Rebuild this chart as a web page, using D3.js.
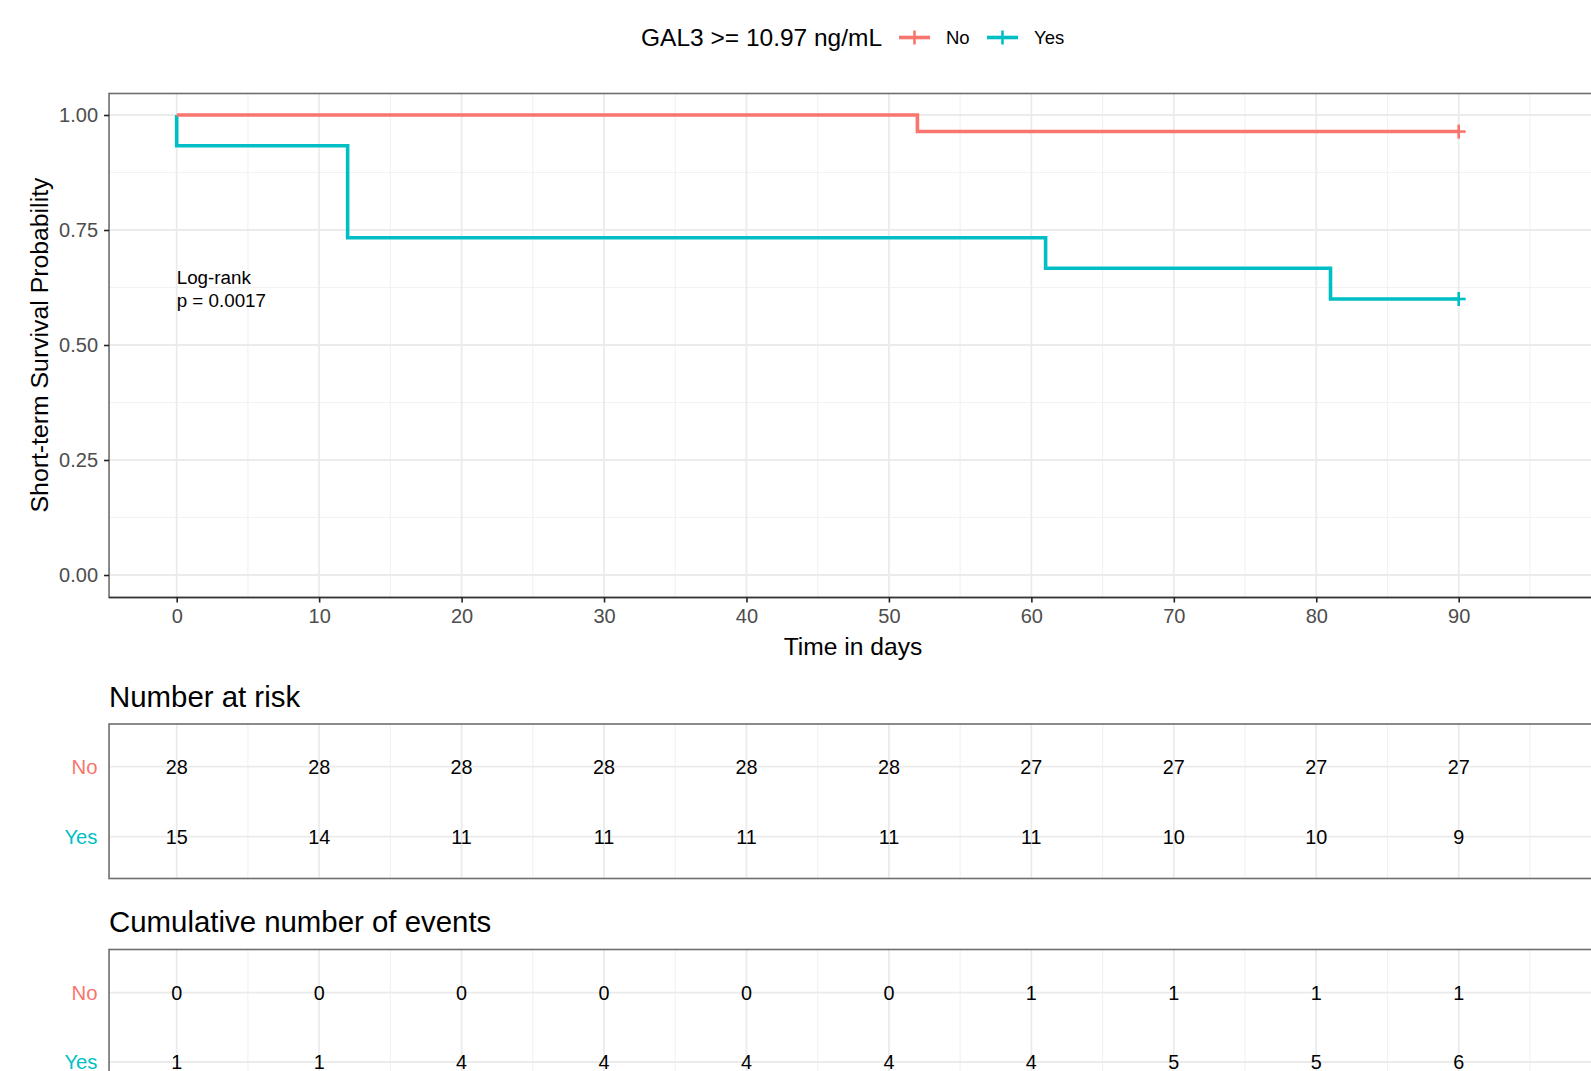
<!DOCTYPE html>
<html>
<head>
<meta charset="utf-8">
<script src="https://cdn.jsdelivr.net/npm/d3@7"></script>
<style>
  html, body { margin: 0; padding: 0; background: #fff; overflow: hidden; }
  svg { display: block; font-family: "Liberation Sans", Arial, sans-serif; }
</style>
</head>
<body>
<svg id="chart" width="1591" height="1071"></svg>
<script>
// Groups and colours
const groups = ["No", "Yes"];
const groupColors = ["#F8766D", "#00BFC4"];

// Kaplan-Meier step points (time in days, survival probability)
const stepTimesNo = [0, 52, 90];
const survNo      = [1.000, 0.964, 0.964];
const stepTimesYes = [0, 0, 12, 61, 81, 90];
const survYes      = [1.000, 0.933, 0.733, 0.667, 0.600, 0.600];

// Censoring marks
const censorTimes = [90, 90];
const censorSurv  = [0.964, 0.600];

// Axis ticks
const xTicks = [0, 10, 20, 30, 40, 50, 60, 70, 80, 90];
const yTicks = [0, 0.25, 0.5, 0.75, 1.0];
const yTickLabels = ["0.00", "0.25", "0.50", "0.75", "1.00"];

// Risk table time points and values
const tableTimes = [0, 10, 20, 30, 40, 50, 60, 70, 80, 90];
const atRiskNo  = [28, 28, 28, 28, 28, 28, 27, 27, 27, 27];
const atRiskYes = [15, 14, 11, 11, 11, 11, 11, 10, 10, 9];
const eventsNo  = [0, 0, 0, 0, 0, 0, 1, 1, 1, 1];
const eventsYes = [1, 1, 4, 4, 4, 4, 4, 5, 5, 6];

const legendTitle = "GAL3 >= 10.97 ng/mL";
const pText = ["Log-rank", "p = 0.0017"];

const svg = d3.select("#chart");
const gridMajor = "#EBEBEB", gridMinor = "#F2F2F2", borderCol = "#6E6E6E";
const FONT = "Liberation Sans, Arial, sans-serif";

// Shared x scale
const x = d3.scaleLinear().domain([0, 90]).range([176.7, 1458.7]);
const xMin = -4.75, xMax = 99.5;
const gridX = d3.range(0, 100, 5);

// ---------- Main survival panel ----------
const y = d3.scaleLinear().domain([0, 1]).range([575, 115]);
const pTop = 93.5, pBot = 597.5, pLeft = x(xMin), pRight = x(xMax);

const main = svg.append("g");
// minor y grid
main.selectAll("line.ymin").data([0.125, 0.375, 0.625, 0.875]).join("line")
  .attr("x1", pLeft).attr("x2", pRight).attr("y1", d => y(d)).attr("y2", d => y(d))
  .attr("stroke", gridMinor).attr("stroke-width", 1.2);
// x grid (major every 10, minor at 5s)
main.selectAll("line.xg").data(gridX).join("line")
  .attr("x1", d => x(d)).attr("x2", d => x(d)).attr("y1", pTop).attr("y2", pBot)
  .attr("stroke", d => d % 10 === 0 ? gridMajor : gridMinor)
  .attr("stroke-width", d => d % 10 === 0 ? 1.8 : 1.2);
// major y grid
main.selectAll("line.ymaj").data(yTicks).join("line")
  .attr("x1", pLeft).attr("x2", pRight).attr("y1", d => y(d)).attr("y2", d => y(d))
  .attr("stroke", gridMajor).attr("stroke-width", 1.8);

// curves
const line = d3.line().x(d => x(d[0])).y(d => y(d[1])).curve(d3.curveStepAfter);
const curveYes = stepTimesYes.map((t, i) => [t, survYes[i]]);
const curveNo = stepTimesNo.map((t, i) => [t, survNo[i]]);
main.append("path").datum(curveYes).attr("d", line)
  .attr("fill", "none").attr("stroke", groupColors[1]).attr("stroke-width", 3.6);
main.append("path").datum(curveNo).attr("d", line)
  .attr("fill", "none").attr("stroke", groupColors[0]).attr("stroke-width", 3.6);

// censor marks
censorTimes.forEach((t, i) => {
  const cx = x(t), cy = y(censorSurv[i]);
  const c = groupColors[i];
  main.append("line").attr("x1", cx - 7).attr("x2", cx + 7).attr("y1", cy).attr("y2", cy)
    .attr("stroke", c).attr("stroke-width", 2.6);
  main.append("line").attr("x1", cx).attr("x2", cx).attr("y1", cy - 7).attr("y2", cy + 7)
    .attr("stroke", c).attr("stroke-width", 2.6);
});

// p-value text
main.append("text").attr("x", x(0)).attr("y", 284).attr("font-size", 18.8)
  .attr("fill", "#000").text(pText[0]);
main.append("text").attr("x", x(0)).attr("y", 307).attr("font-size", 18.8)
  .attr("fill", "#000").text(pText[1]);

// panel border
main.append("rect").attr("x", pLeft).attr("y", pTop)
  .attr("width", pRight - pLeft).attr("height", pBot - pTop)
  .attr("fill", "none").attr("stroke", borderCol).attr("stroke-width", 1.6);
main.append("line").attr("x1", pLeft).attr("x2", pRight).attr("y1", pBot).attr("y2", pBot)
  .attr("stroke", "#333").attr("stroke-width", 1.6);

// y axis
const yAxis = main.append("g").attr("transform", `translate(${pLeft},0)`)
  .call(d3.axisLeft(y).tickValues(yTicks).tickSize(5).tickPadding(6)
    .tickFormat((d, i) => yTickLabels[i]));
yAxis.select(".domain").remove();
yAxis.selectAll(".tick line").attr("stroke", "#222").attr("stroke-width", 1.6);
yAxis.selectAll(".tick text").attr("font-size", 20).attr("fill", "#4D4D4D")
  .attr("font-family", FONT);

// x axis
const xAxis = main.append("g").attr("transform", `translate(0,${pBot})`)
  .call(d3.axisBottom(x).tickValues(xTicks).tickSize(5).tickPadding(6)
    .tickFormat(d3.format("d")));
xAxis.select(".domain").remove();
xAxis.selectAll(".tick line").attr("stroke", "#222").attr("stroke-width", 1.6);
xAxis.selectAll(".tick text").attr("font-size", 20).attr("fill", "#4D4D4D")
  .attr("font-family", FONT);

// axis titles
svg.append("text").attr("x", 853).attr("y", 655).attr("text-anchor", "middle")
  .attr("font-size", 24.6).attr("fill", "#000").text("Time in days");
svg.append("text").attr("transform", "translate(48,345) rotate(-90)")
  .attr("text-anchor", "middle").attr("font-size", 24.8).attr("fill", "#000")
  .text("Short-term Survival Probability");

// ---------- Legend ----------
const lg = svg.append("g");
lg.append("text").attr("x", 641).attr("y", 46).attr("font-size", 24.5)
  .attr("fill", "#000").text(legendTitle);
const legendKeys = [
  {x0: 899, x1: 930, tx: 946},
  {x0: 987, x1: 1018, tx: 1034}
];
legendKeys.forEach((k, i) => {
  const cy = 37.5, cx = (k.x0 + k.x1) / 2;
  lg.append("line").attr("x1", k.x0).attr("x2", k.x1).attr("y1", cy).attr("y2", cy)
    .attr("stroke", groupColors[i]).attr("stroke-width", 3.6);
  lg.append("line").attr("x1", cx).attr("x2", cx).attr("y1", cy - 7).attr("y2", cy + 7)
    .attr("stroke", groupColors[i]).attr("stroke-width", 2.6);
  lg.append("text").attr("x", k.tx).attr("y", 44).attr("font-size", 18.5)
    .attr("fill", "#000").text(groups[i]);
});

// ---------- Tables ----------
function drawTable(title, titleY, top, rowYs, bottom, rows) {
  const g = svg.append("g");
  g.append("text").attr("x", 109).attr("y", titleY).attr("font-size", 29.4)
    .attr("fill", "#000").text(title);
  g.selectAll("line.vg").data(gridX).join("line")
    .attr("x1", d => x(d)).attr("x2", d => x(d)).attr("y1", top).attr("y2", bottom)
    .attr("stroke", d => d % 10 === 0 ? gridMajor : gridMinor)
    .attr("stroke-width", d => d % 10 === 0 ? 1.8 : 1.2);
  rowYs.forEach(ry => {
    g.append("line").attr("x1", pLeft).attr("x2", pRight).attr("y1", ry).attr("y2", ry)
      .attr("stroke", gridMajor).attr("stroke-width", 1.8);
  });
  rows.forEach((vals, r) => {
    g.selectAll(null).data(vals).join("text")
      .attr("x", (d, i) => x(tableTimes[i])).attr("y", rowYs[r] + 7)
      .attr("text-anchor", "middle").attr("font-size", 19.8).attr("fill", "#000")
      .text(d => d);
    g.append("text").attr("x", 97.5).attr("y", rowYs[r] + 7.3)
      .attr("text-anchor", "end").attr("font-size", 20.3)
      .attr("fill", groupColors[r]).text(groups[r]);
  });
  g.append("rect").attr("x", pLeft).attr("y", top)
    .attr("width", pRight - pLeft).attr("height", bottom - top)
    .attr("fill", "none").attr("stroke", borderCol).attr("stroke-width", 1.6);
}

drawTable("Number at risk", 707, 724, [766.7, 836.7], 878.5, [atRiskNo, atRiskYes]);
drawTable("Cumulative number of events", 932, 949.5, [992.7, 1062], 1104, [eventsNo, eventsYes]);
</script>
</body>
</html>
